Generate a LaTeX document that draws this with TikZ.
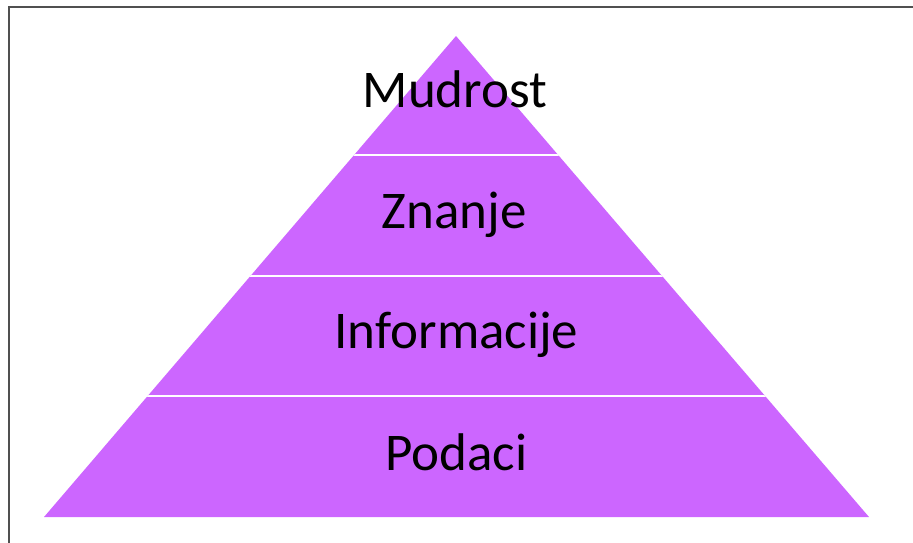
\documentclass[tikz,border=0pt]{standalone}
\usepackage{fontspec}
\setmainfont{Carlito}
\definecolor{pyr}{HTML}{CC66FF}
\definecolor{frame}{HTML}{505050}
\begin{document}
\begin{tikzpicture}[x=1pt,y=-1pt,
  lbl/.style={anchor=base,font=\fontsize{53}{62}\selectfont,text=black,inner sep=0pt},
  divider/.style={draw=white,line width=1.4pt}]
\useasboundingbox (0,0) rectangle (913,543);
\draw[frame,line width=2.4pt] (913,7) -- (9,7) -- (9,543);
\coordinate (apex) at (456,36);
\coordinate (bl) at (44,517);
\coordinate (br) at (869,517);
\fill[pyr] (apex) -- (bl) -- (br) -- cycle;
\begin{scope}
  \clip (apex) -- (bl) -- (br) -- cycle;
  \draw[divider] (0,155) -- (913,155);
  \draw[divider] (0,276) -- (913,276);
  \draw[divider] (0,396) -- (913,396);
\end{scope}
\node[lbl] (m) at (455,107) {Mudrost};
\node[lbl] (z) at (454,228) {Znanje};
\node[lbl] (i) at (456.5,348) {Informacije};
\node[lbl] (p) at (456.5,470) {Podaci};
\end{tikzpicture}
\end{document}
